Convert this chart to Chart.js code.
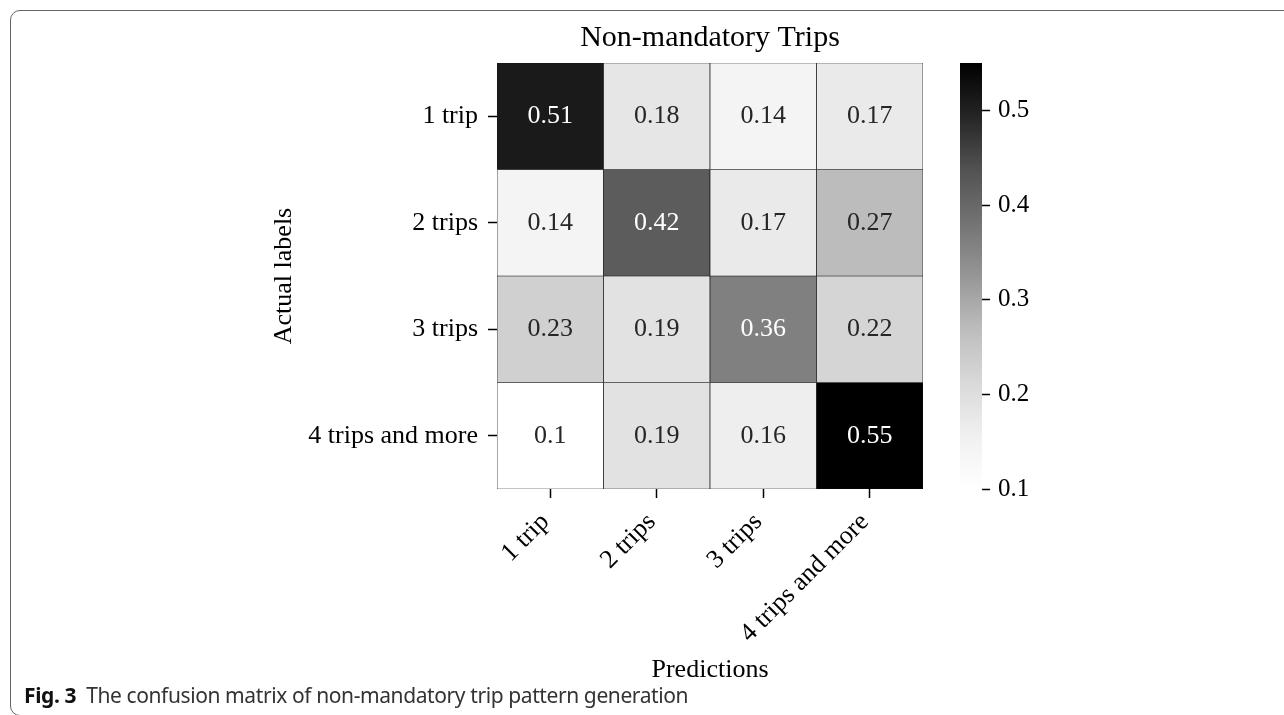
<!DOCTYPE html>
<html><head><meta charset="utf-8">
<script src="https://cdn.jsdelivr.net/npm/chart.js@4.4.1/dist/chart.umd.min.js"></script>
<style>
html,body{margin:0;padding:0;width:1284px;height:715px;overflow:hidden;background:#fff;}
#frame{position:absolute;left:10px;top:10px;width:1320px;height:706px;border:1.5px solid #666;border-radius:10px;box-sizing:border-box;}
#main{position:absolute;left:0;top:0;}
#cbar{position:absolute;left:940px;top:0;}
#caption{position:absolute;left:24px;top:685px;font-family:'Noto Sans';font-size:21px;line-height:20px;letter-spacing:-0.4px;color:#333;white-space:nowrap;}
#caption b{color:#111;}
</style></head><body>
<div id="frame"></div>
<canvas id="main" width="1284" height="715"></canvas>
<canvas id="cbar" width="200" height="715"></canvas>
<div id="caption"><b>Fig. 3</b>&nbsp; The confusion matrix of non-mandatory trip pattern generation</div>
<script>
// ---- data ----
const predictions = ['1 trip', '2 trips', '3 trips', '4 trips and more'];
const actuals = ['1 trip', '2 trips', '3 trips', '4 trips and more'];
const row1 = [0.51, 0.18, 0.14, 0.17];
const row2 = [0.14, 0.42, 0.17, 0.27];
const row3 = [0.23, 0.19, 0.36, 0.22];
const row4 = [0.10, 0.19, 0.16, 0.55];
const rows = [row1, row2, row3, row4];
const cbarTicks = [0.1, 0.2, 0.3, 0.4, 0.5];
const vmin = 0.1, vmax = 0.55;
const titleText = 'Non-mandatory Trips';

// ---- colormap (Greys) ----
const greys = [255, 240, 217, 189, 150, 115, 82, 37, 0];
function greyLevel(v) {
  let t = (v - vmin) / (vmax - vmin);
  t = Math.max(0, Math.min(1, t));
  const p = t * 8;
  const i = Math.min(7, Math.floor(p));
  const f = p - i;
  return Math.round(greys[i] + (greys[i + 1] - greys[i]) * f);
}
function greyColor(v) { const g = greyLevel(v); return `rgb(${g},${g},${g})`; }
function lum(v) {
  const c = greyLevel(v) / 255;
  return c <= 0.03928 ? c / 12.92 : Math.pow((c + 0.055) / 1.055, 2.4);
}

const SERIF = '"Liberation Serif", "Times New Roman", serif';
Chart.defaults.color = '#000';
Chart.defaults.font.family = SERIF;

const annot = {
  id: 'annot',
  afterDatasetsDraw(chart) {
    const ctx = chart.ctx;
    ctx.save();
    ctx.font = '26px ' + SERIF;
    ctx.textAlign = 'center';
    ctx.textBaseline = 'middle';
    rows.forEach((row, r) => {
      const meta = chart.getDatasetMeta(r);
      row.forEach((v, c) => {
        const p = meta.data[c].getCenterPoint();
        ctx.fillStyle = lum(v) > 0.408 ? '#262626' : '#ffffff';
        ctx.fillText(String(v), p.x, p.y);
      });
    });
    ctx.restore();
  }
};

new Chart(document.getElementById('main'), {
  type: 'bar',
  data: {
    labels: predictions,
    datasets: rows.map((row, r) => ({
      label: actuals[r],
      data: predictions.map(() => [r, r + 1]),
      backgroundColor: row.map(greyColor),
      borderColor: '#111',
      borderWidth: 0.7,
      borderSkipped: false,
      grouped: false,
      barPercentage: 1,
      categoryPercentage: 1
    }))
  },
  options: {
    responsive: false,
    animation: false,
    layout: { padding: { left: 269, right: 361, top: 20, bottom: 29 } },
    plugins: {
      legend: { display: false },
      tooltip: { enabled: false },
      title: {
        display: true, text: titleText, fullSize: false, color: '#000',
        font: { family: SERIF, size: 30, weight: 'normal' },
        padding: { top: 0, bottom: 7 }
      }
    },
    scales: {
      x: {
        type: 'category',
        offset: true,
        grid: { display: true, offset: false, drawOnChartArea: false, drawTicks: true, tickLength: 9, tickColor: '#000', tickWidth: 1.5 },
        border: { display: false },
        ticks: { font: { family: SERIF, size: 26 }, color: '#000', maxRotation: 45, minRotation: 45, padding: 9, labelOffset: -5, autoSkip: false },
        title: { display: true, text: 'Predictions', color: '#000', font: { family: SERIF, size: 26 }, padding: { top: 0, bottom: 0 } },
        afterFit(s) { s.height = 197; }
      },
      y: {
        type: 'linear', min: 0, max: 4, reverse: true,
        afterBuildTicks(s) { s.ticks = actuals.map((_, i) => ({ value: i + 0.5 })); },
        ticks: { callback: (v, i) => actuals[i], font: { family: SERIF, size: 26 }, color: '#000', padding: 10, autoSkip: false },
        grid: { drawOnChartArea: false, drawTicks: true, tickLength: 9, tickColor: '#000', tickWidth: 1.5 },
        border: { display: false },
        title: { display: true, text: 'Actual labels', color: '#000', font: { family: SERIF, size: 26 }, padding: { top: 0, bottom: 0 } },
        afterFit(s) { s.width = 228; }
      }
    }
  },
  plugins: [annot]
});

new Chart(document.getElementById('cbar'), {
  type: 'bar',
  data: {
    labels: ['scale'],
    datasets: [{
      data: [[vmin, vmax]],
      backgroundColor: (c) => {
        const ca = c.chart.chartArea;
        if (!ca) return '#888';
        const g = c.chart.ctx.createLinearGradient(0, ca.bottom, 0, ca.top);
        greys.forEach((lv, i) => g.addColorStop(i / (greys.length - 1), `rgb(${lv},${lv},${lv})`));
        return g;
      },
      borderWidth: 0,
      barPercentage: 1,
      categoryPercentage: 1
    }]
  },
  options: {
    responsive: false,
    animation: false,
    layout: { padding: { left: 20, right: 0, top: 63, bottom: 226 } },
    plugins: { legend: { display: false }, tooltip: { enabled: false } },
    scales: {
      x: { display: false },
      y: {
        position: 'right', min: vmin, max: vmax,
        afterBuildTicks(s) { s.ticks = cbarTicks.map(v => ({ value: v })); },
        ticks: { callback: (v) => Number(v).toFixed(1), font: { family: SERIF, size: 25 }, color: '#000', padding: 8 },
        grid: { drawOnChartArea: false, drawTicks: true, tickLength: 8, tickColor: '#000', tickWidth: 1.5 },
        border: { display: false },
        afterFit(s) { s.width = 158; }
      }
    }
  }
});
</script>
</body></html>
